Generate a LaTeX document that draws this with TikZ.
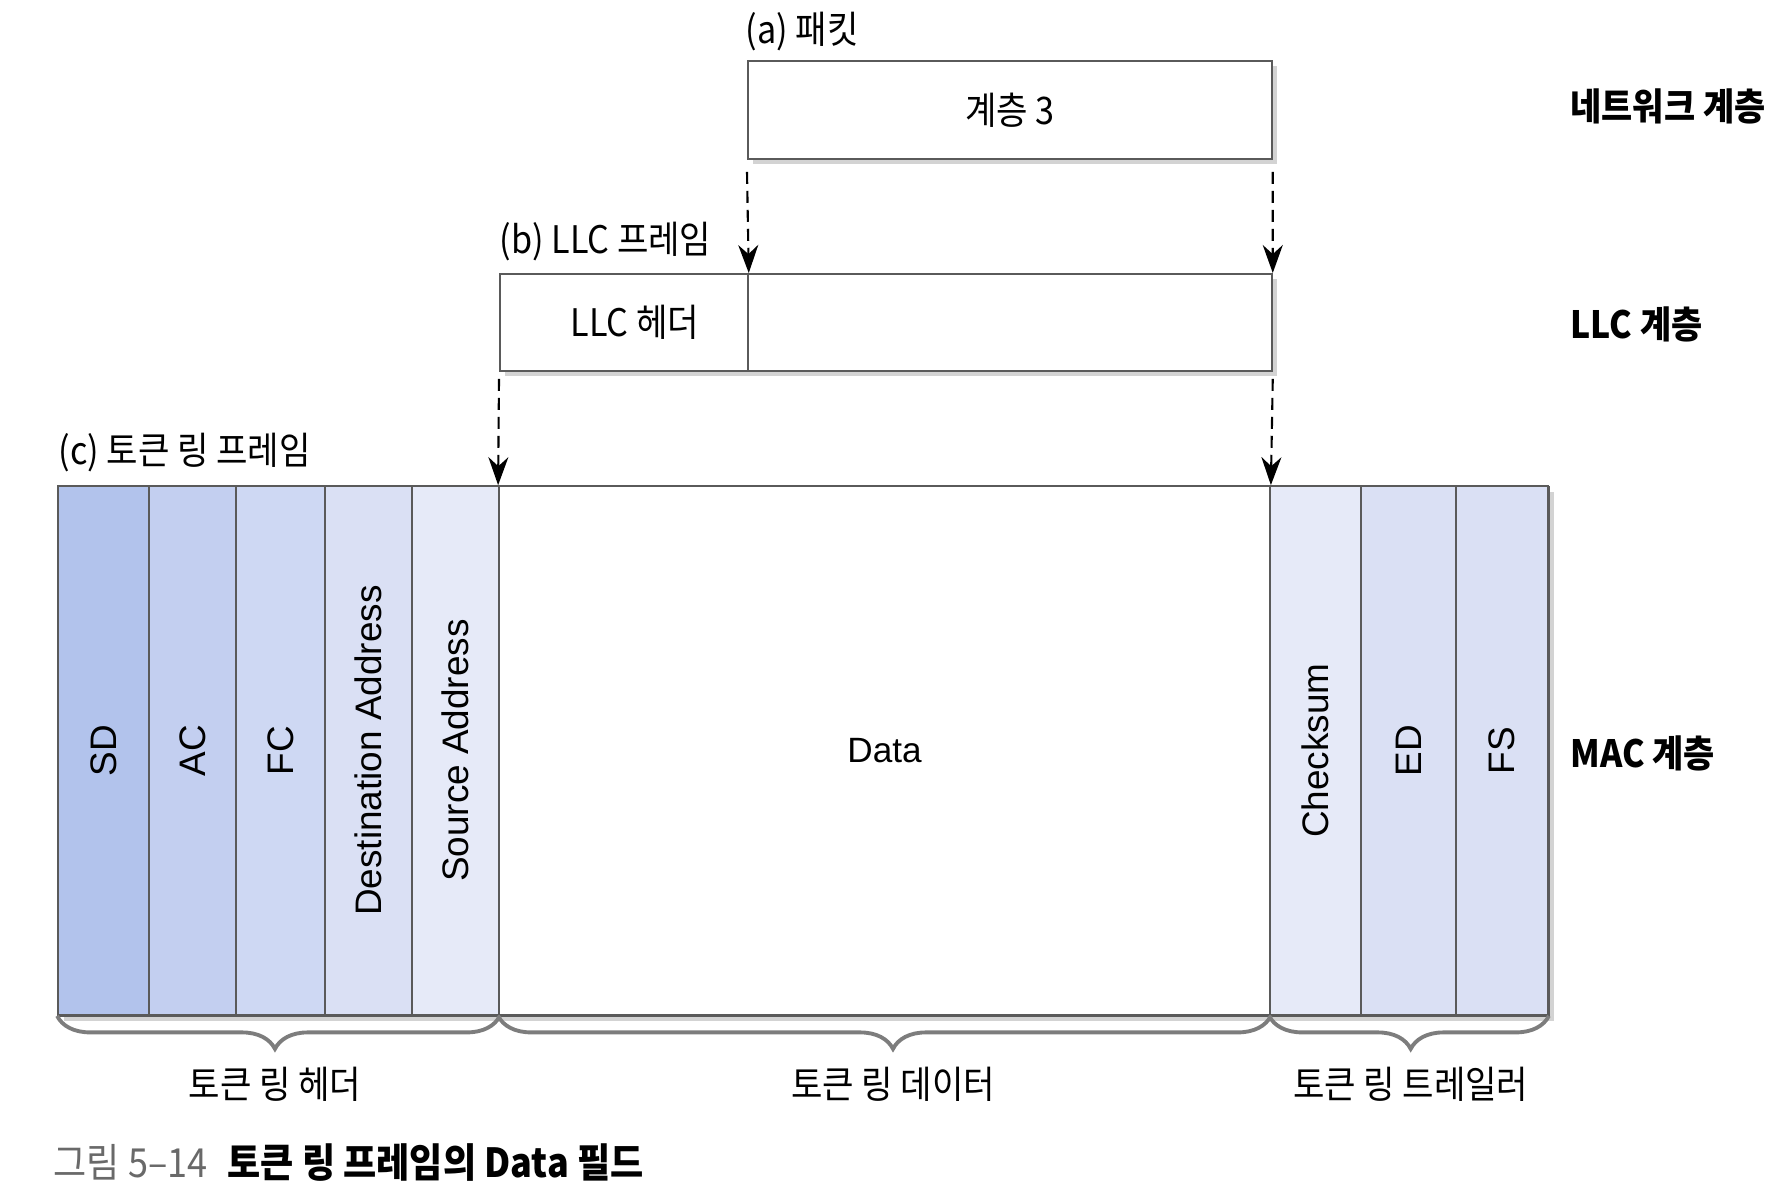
\documentclass[tikz,border=0pt]{standalone}
\usepackage{fontspec}
\setmainfont{Liberation Sans}
\newfontfamily\kr[FakeStretch=0.9]{Noto Sans CJK KR}
\usetikzlibrary{positioning,arrows.meta,decorations.pathreplacing,shadows}

\definecolor{sdblue}{RGB}{178,195,236}
\definecolor{acblue}{RGB}{195,207,240}
\definecolor{fcblue}{RGB}{206,216,243}
\definecolor{dablue}{RGB}{218,224,244}
\definecolor{sablue}{RGB}{230,234,248}
\definecolor{boxline}{RGB}{90,90,90}
\definecolor{bracegray}{RGB}{125,125,125}
\definecolor{figgray}{RGB}{105,105,105}

\begin{document}
\begin{tikzpicture}[
    box/.style={rectangle, draw=boxline, line width=0.5pt, fill=white, inner sep=0pt, font=\kr\fontsize{10.8}{13}\selectfont},
    field/.style={rectangle, draw=boxline, line width=0.5pt, rotate=90, inner sep=0pt, minimum width=5.29cm, font=\fontsize{10.5}{12}\selectfont},
    shadowed/.style={drop shadow={shadow xshift=0.05cm, shadow yshift=-0.05cm, opacity=0.35}},
    flow/.style={dash pattern=on 0.12cm off 0.07cm, line width=0.6pt, -{Stealth[length=0.28cm,width=0.2cm]}},
    tag/.style={font=\kr\fontsize{10.8}{13}\selectfont, inner sep=0pt, anchor=west},
    layer/.style={font=\kr\bfseries\fontsize{10.7}{13}\selectfont, inner sep=0pt, anchor=west},
    ring/.style={decorate, decoration={brace, mirror, amplitude=0.33cm, aspect=#1}, draw=bracegray, line width=1.1pt},
    ring/.default=0.5]

    \useasboundingbox (0,0) rectangle (17.84,-12.00);

    \node(packet)[box, shadowed, minimum width=5.24cm, minimum height=0.98cm, anchor=north west] at (7.47,-0.60) {계층 3};
    \node(llc)[box, shadowed, minimum width=7.72cm, minimum height=0.97cm, anchor=north west] at (4.99,-2.73) {};
    \node(llc-head)[box, minimum width=2.48cm, minimum height=0.97cm, anchor=north west] at (4.99,-2.73) {\hspace*{0.22cm}LLC 헤더};

    % token ring frame
    \node(frame)[box, shadowed, minimum width=14.90cm, minimum height=5.29cm, anchor=north west] at (0.58,-4.86) {};
    \node(sd)[field, fill=sdblue, minimum height=0.91cm] at (1.035,-7.505) {SD};
    \node(ac)[field, fill=acblue, minimum height=0.87cm] at (1.925,-7.505) {AC};
    \node(fc)[field, fill=fcblue, minimum height=0.89cm] at (2.805,-7.505) {FC};
    \node(dst-addr)[field, fill=dablue, minimum height=0.87cm] at (3.685,-7.505) {Destination Address};
    \node(src-addr)[field, fill=sablue, minimum height=0.87cm] at (4.555,-7.505) {Source Address};
    \node(data)[box, minimum width=7.71cm, minimum height=5.29cm, font=\fontsize{10}{12}\selectfont] at (8.845,-7.505) {Data};
    \node(checksum)[field, fill=sablue, minimum height=0.91cm] at (13.155,-7.505) {Checksum};
    \node(ed)[field, fill=dablue, minimum height=0.95cm] at (14.085,-7.505) {ED};
    \node(fs)[field, fill=dablue, minimum height=0.92cm] at (15.02,-7.505) {FS};

    \node(packet-tag)[tag] at (7.45,-0.32) {(a) 패킷};
    \node(llc-tag)[tag] at (4.99,-2.42) {(b) LLC 프레임};
    \node(mac-tag)[tag] at (0.58,-4.525) {(c) 토큰 링 프레임};

    \node(net-layer)[layer] at (15.70,-1.06) {네트워크 계층};
    \node(llc-layer)[layer] at (15.70,-3.24) {LLC 계층};
    \node(mac-layer)[layer] at (15.70,-7.53) {MAC 계층};

    \draw[flow] ([yshift=-0.12cm]packet.south west) -- (llc-head.north east);
    \draw[flow] ([yshift=-0.12cm]packet.south east) -- (llc.north east);
    \draw[flow] ([yshift=-0.07cm]llc.south west) -- (data.north west);
    \draw[flow] ([yshift=-0.07cm]llc.south east) -- (data.north east);

    \draw[ring=0.492] (sd.north west) -- node[tag, anchor=center, pos=0.492, yshift=-0.68cm]{토큰 링 헤더} (src-addr.south west);
    \draw[ring=0.511] (data.south west) -- node[tag, anchor=center, pos=0.511, yshift=-0.68cm]{토큰 링 데이터} (data.south east);
    \draw[ring=0.506] (checksum.north west) -- node[tag, anchor=center, pos=0.506, yshift=-0.68cm]{토큰 링 트레일러} (fs.south west);

    \node(caption)[tag, font=\kr\fontsize{11.4}{14}\selectfont] at (0.53,-11.62) {\textcolor{figgray}{그림 5–14}\hspace{0.5em}\textbf{토큰 링 프레임의 Data 필드}};
\end{tikzpicture}
\end{document}
